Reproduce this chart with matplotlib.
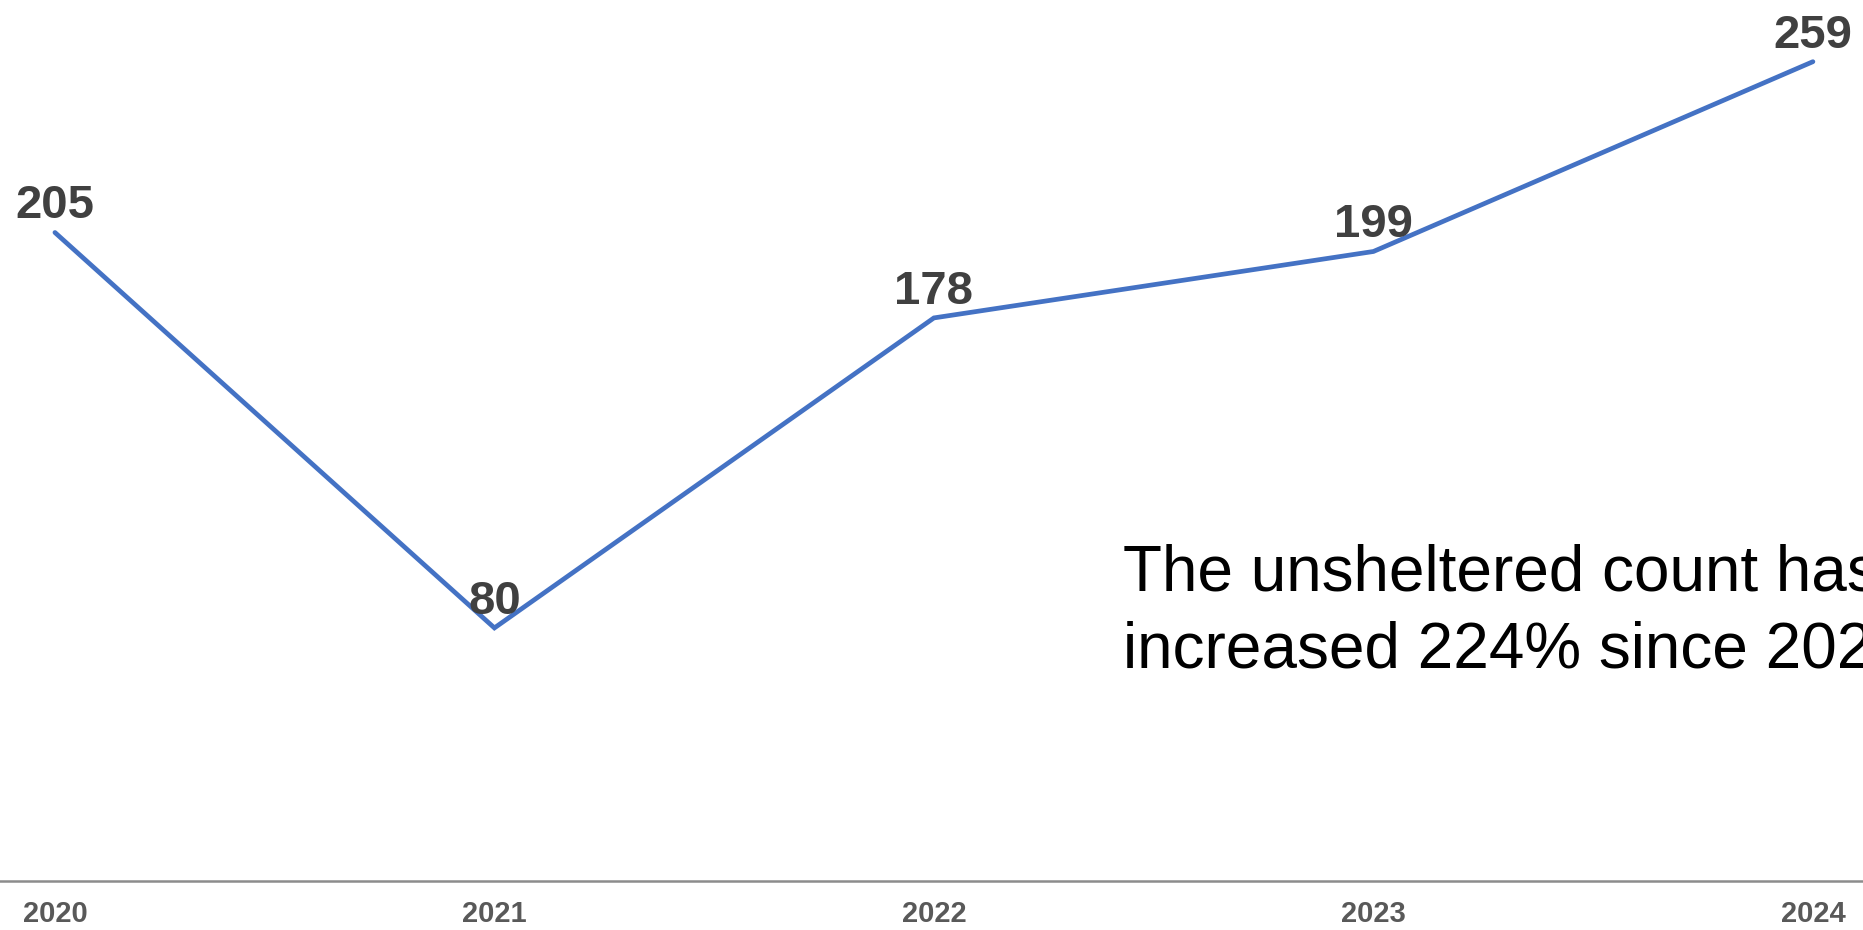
import matplotlib
matplotlib.use("Agg")
import matplotlib.pyplot as plt

# Unsheltered point-in-time counts by year
years = ["2020", "2021", "2022", "2023", "2024"]
counts = [205, 80, 178, 199, 259]
note = "The unsheltered count has\nincreased 224% since 2020"

plt.rcParams["font.family"] = ["Liberation Sans", "DejaVu Sans"]

fig = plt.figure(figsize=(18.63, 9.30), dpi=100)
ax = fig.add_axes([0.0, 0.0527, 1.0, 0.9473])

x = list(range(len(years)))
ax.plot(x, counts, color="#4472C4", linewidth=3.4, solid_capstyle="round",
        solid_joinstyle="miter", clip_on=False, zorder=2)

for xi, v in zip(x, counts):
    ax.annotate(str(v), (xi, v), xytext=(0, 3), textcoords="offset points",
                ha="center", va="bottom", fontsize=34, fontweight="bold",
                color="#404040", zorder=3)

ax.set_xlim(-0.125, 4.114)
ax.set_ylim(0, 278.5)
ax.set_xticks(x)
ax.set_xticklabels(years, fontsize=21, fontweight="bold", color="#595959")
ax.tick_params(axis="x", length=0, pad=14)
ax.set_yticks([])

for side in ("top", "right", "left"):
    ax.spines[side].set_visible(False)
ax.spines["bottom"].set_color("#8c8c8c")
ax.spines["bottom"].set_linewidth(1.8)

# Two-line note; anchored on the baseline of its second line
fig.text(1123 / 1863, 1 - 668 / 930, note, fontsize=46, color="black",
         ha="left", va="baseline", linespacing=1.38)

fig.savefig("out.png", dpi=100)
